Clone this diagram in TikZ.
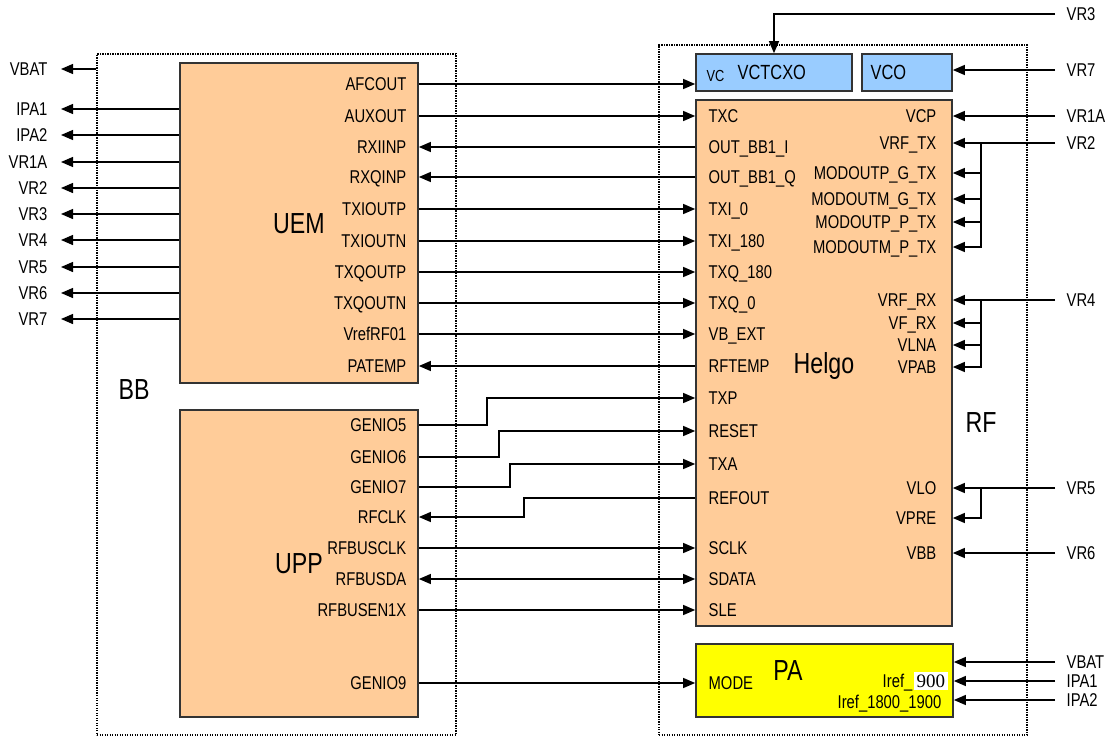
\documentclass[tikz,border=0pt]{standalone}
\usepackage{fontspec}
\setmainfont{Liberation Sans}[FakeStretch=0.8]
\newfontfamily\serifnum{Liberation Serif}
\usepackage{xcolor}
\usepackage{tikz}
\usetikzlibrary{arrows.meta,positioning,calc}
\definecolor{chipfill}{HTML}{FFCC99}
\definecolor{oscfill}{HTML}{99CCFF}
\definecolor{pafill}{HTML}{FFFF00}
\definecolor{chipedge}{HTML}{333333}

\begin{document}
\begin{tikzpicture}[x=1pt,y=-1pt,>={Triangle[length=12pt,width=10pt]},line width=1.3pt]
\tikzstyle{chip}=[draw=chipedge, line width=1.7pt, fill=chipfill, inner sep=0, font=\fontsize{29}{31}\selectfont, text height=20.8pt, text depth=0pt]
\tikzstyle{group}=[draw, line width=1.3pt, dash pattern=on 1.3pt off 1.2pt, inner sep=0]
\tikzstyle{pin}=[inner sep=0, font=\fontsize{18.5}{19}\selectfont, text height=13.2pt, text depth=0pt]
\tikzstyle{bigtxt}=[inner sep=0, font=\fontsize{29}{31}\selectfont, text height=20.8pt, text depth=0pt]
\useasboundingbox (0,0) rectangle (1109,737);

% groups
\node[group, minimum width=359pt, minimum height=681pt] (bb) at (276.5,394.5) {};
\node[group, minimum width=368pt, minimum height=690pt] (rf) at (843,390) {};
\node[bigtxt] (bbtxt) at (134,389) {BB};
\node[bigtxt] (rftxt) at (981,422) {RF};

% chips
\node[chip, minimum width=238pt, minimum height=320pt] (uem) at (299,223) {UEM};
\node[chip, minimum width=238pt, minimum height=307pt] (upp) at (299,563.5) {UPP};
\node[chip, minimum width=256pt, minimum height=526pt] (helgo) at (824,363) {Helgo};
\node[chip, fill=oscfill, minimum width=156pt, minimum height=37pt] (vctcxo) at (774,72.5) {};
\node[chip, fill=oscfill, minimum width=90pt, minimum height=37pt] (vco) at (907,72.5) {};
\node[chip, fill=pafill, minimum width=257pt, minimum height=73pt] (pa) at (824.5,680.5) {};
\node[pin, anchor=west, font=\fontsize{16}{17}\selectfont, text height=11.4pt] (vc) at (706,76) {VC};
\node[pin, anchor=west, font=\fontsize{20.5}{21}\selectfont, text height=14.7pt] (vctxt) at (737,72) {VCTCXO};
\node[pin, anchor=west, font=\fontsize{20.5}{21}\selectfont, text height=14.7pt] (vcotxt) at (870,72) {VCO};
\node[bigtxt] (patxt) at (788,670) {PA};

% UEM pins
\node[pin, anchor=east] (afcout) at (407,84) {AFCOUT};
\node[pin, anchor=east] (auxout) at (407,116) {AUXOUT};
\node[pin, anchor=east] (rxiinp) at (407,147) {RXIINP};
\node[pin, anchor=east] (rxqinp) at (407,177) {RXQINP};
\node[pin, anchor=east] (txioutp) at (407,209) {TXIOUTP};
\node[pin, anchor=east] (txioutn) at (407,241) {TXIOUTN};
\node[pin, anchor=east] (txqoutp) at (407,272) {TXQOUTP};
\node[pin, anchor=east] (txqoutn) at (407,303) {TXQOUTN};
\node[pin, anchor=east] (vrefrf) at (407,334) {VrefRF01};
\node[pin, anchor=east] (patemp) at (407,366) {PATEMP};

% UPP pins
\node[pin, anchor=east] (genio5) at (407,425) {GENIO5};
\node[pin, anchor=east] (genio6) at (407,457) {GENIO6};
\node[pin, anchor=east] (genio7) at (407,487) {GENIO7};
\node[pin, anchor=east] (rfclk) at (407,517) {RFCLK};
\node[pin, anchor=east] (rfbusclk) at (407,548) {RFBUSCLK};
\node[pin, anchor=east] (rfbusda) at (407,579) {RFBUSDA};
\node[pin, anchor=east] (rfbusen) at (407,610) {RFBUSEN1X};
\node[pin, anchor=east] (genio9) at (407,683) {GENIO9};

% Helgo pins, left
\node[pin, anchor=west] (txc) at (708,116) {TXC};
\node[pin, anchor=west] (outi) at (708,147) {OUT\_BB1\_I};
\node[pin, anchor=west] (outq) at (708,177) {OUT\_BB1\_Q};
\node[pin, anchor=west] (txi0) at (708,209) {TXI\_0};
\node[pin, anchor=west] (txi180) at (708,241) {TXI\_180};
\node[pin, anchor=west] (txq180) at (708,272) {TXQ\_180};
\node[pin, anchor=west] (txq0) at (708,303) {TXQ\_0};
\node[pin, anchor=west] (vbext) at (708,334) {VB\_EXT};
\node[pin, anchor=west] (rftemp) at (708,366) {RFTEMP};
\node[pin, anchor=west] (txp) at (708,398) {TXP};
\node[pin, anchor=west] (reset) at (708,431) {RESET};
\node[pin, anchor=west] (txa) at (708,464) {TXA};
\node[pin, anchor=west] (refout) at (708,498) {REFOUT};
\node[pin, anchor=west] (sclk) at (708,548) {SCLK};
\node[pin, anchor=west] (sdata) at (708,579) {SDATA};
\node[pin, anchor=west] (sle) at (708,610) {SLE};
\node[pin, anchor=west] (mode) at (708,683) {MODE};

% Helgo pins, right
\node[pin, anchor=east] (vcp) at (937,116) {VCP};
\node[pin, anchor=east] (vrftx) at (937,143) {VRF\_TX};
\node[pin, anchor=east] (modpg) at (937,173) {MODOUTP\_G\_TX};
\node[pin, anchor=east] (modmg) at (937,199) {MODOUTM\_G\_TX};
\node[pin, anchor=east] (modpp) at (937,222) {MODOUTP\_P\_TX};
\node[pin, anchor=east] (modmp) at (937,247) {MODOUTM\_P\_TX};
\node[pin, anchor=east] (vrfrx) at (937,300) {VRF\_RX};
\node[pin, anchor=east] (vfrx) at (937,323) {VF\_RX};
\node[pin, anchor=east] (vlna) at (937,345) {VLNA};
\node[pin, anchor=east] (vpab) at (937,367) {VPAB};
\node[pin, anchor=east] (vlo) at (937,488) {VLO};
\node[pin, anchor=east] (vpre) at (937,518) {VPRE};
\node[pin, anchor=east] (vbb) at (937,553) {VBB};

% PA pins
\node[pin, anchor=east] (iref) at (913,681) {Iref\_};
\node[pin, right=0pt of iref, fill=white, inner xsep=3pt, inner ysep=2pt, font=\serifnum\fontsize{19}{20}\selectfont] (ref900) {900};
\node[pin, anchor=east] (irefhi) at (942,702) {Iref\_1800\_1900};

% supplies out of BB
\node[pin, anchor=east] (vbatL) at (48,69) {VBAT};
\node[pin, anchor=east] (ipa1L) at (48,109) {IPA1};
\node[pin, anchor=east] (ipa2L) at (48,135) {IPA2};
\node[pin, anchor=east] (vr1aL) at (48,162) {VR1A};
\node[pin, anchor=east] (vr2L) at (48,188) {VR2};
\node[pin, anchor=east] (vr3L) at (48,214) {VR3};
\node[pin, anchor=east] (vr4L) at (48,240) {VR4};
\node[pin, anchor=east] (vr5L) at (48,267) {VR5};
\node[pin, anchor=east] (vr6L) at (48,293) {VR6};
\node[pin, anchor=east] (vr7L) at (48,319) {VR7};

% supplies into RF
\node[pin, anchor=west] (vr3R) at (1066,14) {VR3};
\node[pin, anchor=west] (vr7R) at (1066,70) {VR7};
\node[pin, anchor=west] (vr1aR) at (1066,116) {VR1A};
\node[pin, anchor=west] (vr2R) at (1066,143) {VR2};
\node[pin, anchor=west] (vr4R) at (1066,300) {VR4};
\node[pin, anchor=west] (vr5R) at (1066,488) {VR5};
\node[pin, anchor=west] (vr6R) at (1066,553) {VR6};
\node[pin, anchor=west] (vbatR) at (1066,662) {VBAT};
\node[pin, anchor=west] (ipa1R) at (1066,681) {IPA1};
\node[pin, anchor=west] (ipa2R) at (1066,700) {IPA2};

% jog points
\coordinate (j5) at (487,0);
\coordinate (j6) at (499,0);
\coordinate (j7) at (510,0);
\coordinate (jclk) at (524,0);
\coordinate (txbus) at (981,0);

% left side
\draw[->] (vbatL -| bb.west) -- ([xshift=13pt]vbatL.east);
\draw[->] (ipa1L -| uem.west) -- ([xshift=13pt]ipa1L.east);
\draw[->] (ipa2L -| uem.west) -- ([xshift=13pt]ipa2L.east);
\draw[->] (vr1aL -| uem.west) -- ([xshift=13pt]vr1aL.east);
\draw[->] (vr2L -| uem.west) -- ([xshift=13pt]vr2L.east);
\draw[->] (vr3L -| uem.west) -- ([xshift=13pt]vr3L.east);
\draw[->] (vr4L -| uem.west) -- ([xshift=13pt]vr4L.east);
\draw[->] (vr5L -| uem.west) -- ([xshift=13pt]vr5L.east);
\draw[->] (vr6L -| uem.west) -- ([xshift=13pt]vr6L.east);
\draw[->] (vr7L -| uem.west) -- ([xshift=13pt]vr7L.east);

% UEM - RF
\draw[->] (afcout -| uem.east) -- (afcout -| vctcxo.west);
\draw[->] (auxout -| uem.east) -- (txc -| helgo.west);
\draw[->] (outi -| helgo.west) -- (rxiinp -| uem.east);
\draw[->] (outq -| helgo.west) -- (rxqinp -| uem.east);
\draw[->] (txioutp -| uem.east) -- (txi0 -| helgo.west);
\draw[->] (txioutn -| uem.east) -- (txi180 -| helgo.west);
\draw[->] (txqoutp -| uem.east) -- (txq180 -| helgo.west);
\draw[->] (txqoutn -| uem.east) -- (txq0 -| helgo.west);
\draw[->] (vrefrf -| uem.east) -- (vbext -| helgo.west);
\draw[->] (rftemp -| helgo.west) -- (patemp -| uem.east);

% UPP - RF
\draw[->] (genio5 -| upp.east) -| (j5 |- txp) -- (txp -| helgo.west);
\draw[->] (genio6 -| upp.east) -| (j6 |- reset) -- (reset -| helgo.west);
\draw[->] (genio7 -| upp.east) -| (j7 |- txa) -- (txa -| helgo.west);
\draw[->] (refout -| helgo.west) -| (jclk |- rfclk) -- (rfclk -| upp.east);
\draw[->] (rfbusclk -| upp.east) -- (sclk -| helgo.west);
\draw[<->] (rfbusda -| upp.east) -- (sdata -| helgo.west);
\draw[->] (rfbusen -| upp.east) -- (sle -| helgo.west);
\draw[->] (genio9 -| upp.east) -- (mode -| pa.west);

% supplies into RF
\draw[->] ([xshift=-11pt]vr3R.west) -| (vctcxo.north);
\draw[->] ([xshift=-11pt]vr7R.west) -- (vr7R -| vco.east);
\draw[->] ([xshift=-11pt]vr1aR.west) -- (vcp -| helgo.east);
\draw[->] ([xshift=-11pt]vr2R.west) -- (vrftx -| helgo.east);
\draw[->] (txbus |- vrftx) |- (modpg -| helgo.east);
\draw[->] (txbus |- vrftx) |- (modmg -| helgo.east);
\draw[->] (txbus |- vrftx) |- (modpp -| helgo.east);
\draw[->] (txbus |- vrftx) |- (modmp -| helgo.east);
\draw[->] ([xshift=-11pt]vr4R.west) -- (vrfrx -| helgo.east);
\draw[->] (txbus |- vrfrx) |- (vfrx -| helgo.east);
\draw[->] (txbus |- vrfrx) |- (vlna -| helgo.east);
\draw[->] (txbus |- vrfrx) |- (vpab -| helgo.east);
\draw[->] ([xshift=-11pt]vr5R.west) -- (vlo -| helgo.east);
\draw[->] (txbus |- vlo) |- (vpre -| helgo.east);
\draw[->] ([xshift=-11pt]vr6R.west) -- (vbb -| helgo.east);
\draw[->] ([xshift=-11pt]vbatR.west) -- (vbatR -| pa.east);
\draw[->] ([xshift=-11pt]ipa1R.west) -- (ipa1R -| pa.east);
\draw[->] ([xshift=-11pt]ipa2R.west) -- (ipa2R -| pa.east);
\end{tikzpicture}
\end{document}
